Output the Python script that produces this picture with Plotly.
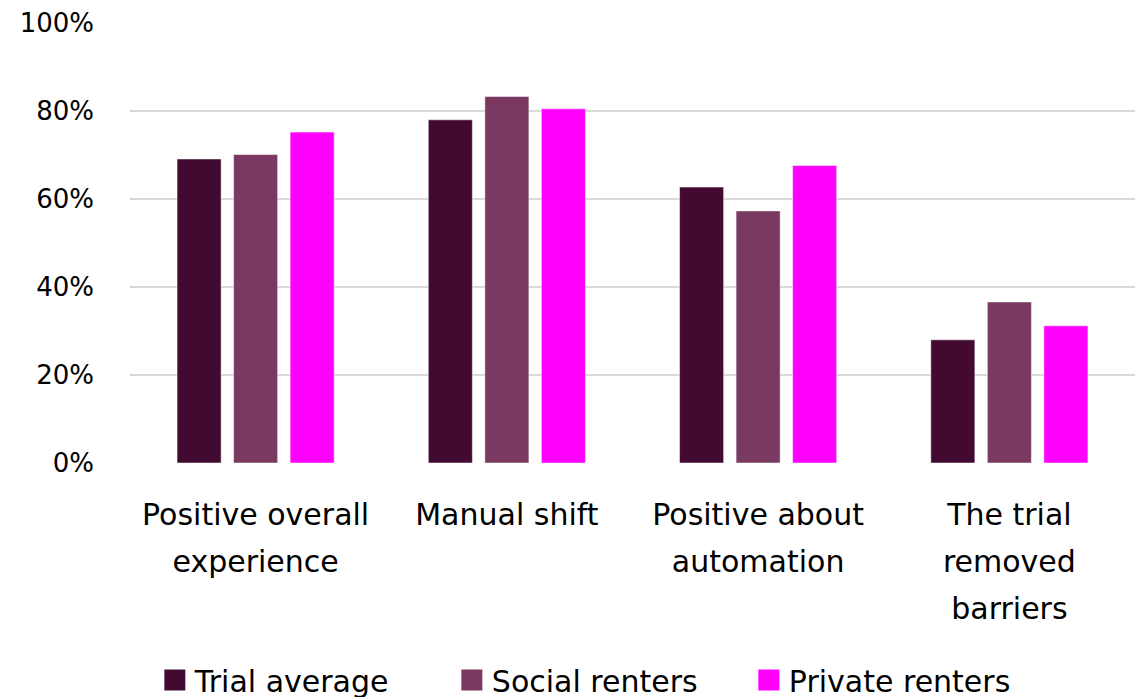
import plotly.graph_objects as go

categories = ["Positive overall<br>experience", "Manual shift", "Positive about<br>automation", "The trial<br>removed<br>barriers"]
series_names = ["Trial average", "Social renters", "Private renters"]
trial_average = [69.1, 78.0, 62.7, 28.0]
social_renters = [70.1, 83.3, 57.3, 36.6]
private_renters = [75.2, 80.5, 67.6, 31.2]
colors = ["#420A31", "#7A3961", "#FF00FF"]
y_ticks = [0, 20, 40, 60, 80, 100]
y_ticktext = ["0%", "20%", "40%", "60%", "80%", "100%"]

FONT = "DejaVu Sans"
fig = go.Figure()
for name, vals, col in zip(series_names, [trial_average, social_renters, private_renters], colors):
    fig.add_trace(go.Bar(
        x=list(range(len(categories))), y=vals, name=name, showlegend=False,
        marker=dict(color=col, line=dict(color="rgba(255,255,255,0.5)", width=1)),
    ))
# legend entries with large square swatches
for name, col in zip(series_names, colors):
    fig.add_trace(go.Scatter(
        x=[None], y=[None], mode="markers", name=name,
        marker=dict(symbol="square", size=22, color=col, line=dict(color=col, width=5)),
    ))

fig.update_layout(
    width=1147, height=697,
    margin=dict(l=122, r=20, t=15, b=242, autoexpand=False),
    paper_bgcolor="white", plot_bgcolor="white",
    barmode="group", bargap=0.325, bargroupgap=0.22,
    font=dict(family=FONT, size=26, color="#000000"),
    showlegend=True,
    legend=dict(orientation="h", x=0.468, xanchor="center", y=-0.493, yanchor="middle",
                font=dict(family=FONT, size=30, color="#000000"),
                traceorder="normal", entrywidth=252, entrywidthmode="pixels"),
)
fig.update_xaxes(
    tickmode="array", tickvals=list(range(len(categories))),
    ticktext=['<span style="font-size:30px">' + c + '</span>' for c in categories],
    tickfont=dict(family=FONT, size=36.5, color="#000000"),
    range=[-0.5, 3.5], showgrid=False, zeroline=False, showline=False, ticks="",
    ticklabelstandoff=24,
)
fig.update_yaxes(
    range=[0, 100], tickmode="array", tickvals=y_ticks, ticktext=y_ticktext,
    tickfont=dict(family=FONT, size=26, color="#000000"),
    showgrid=True, gridcolor="#D9D9D9", gridwidth=1.5,
    zeroline=False, showline=False, ticks="", ticklabelstandoff=35,
)
fig.write_html("out.html")
